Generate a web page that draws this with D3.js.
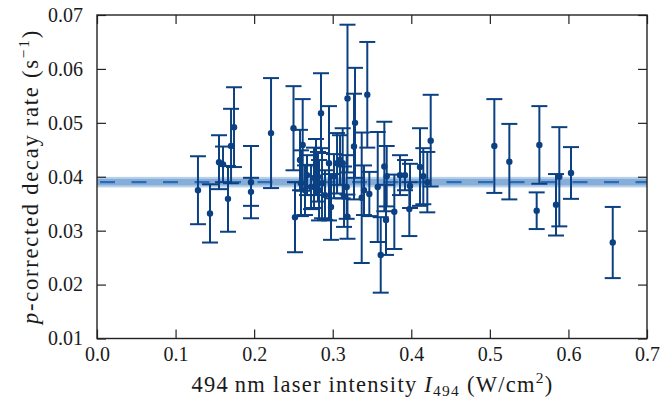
<!DOCTYPE html>
<html><head><meta charset="utf-8">
<script src="https://cdn.jsdelivr.net/npm/d3@7"></script>
<style>body{margin:0;background:#fff}svg{display:block}</style>
</head><body><svg id="c" width="661" height="410"></svg>
<script>
const intensity = [0.1285,0.1438,0.1553,0.1604,0.1667,0.1706,0.1744,0.196,0.196,0.2215,0.2501,0.252,
0.2584,0.2596,0.2618,0.2647,0.2673,0.2724,0.2762,0.2787,0.2813,0.2826,0.2851,0.2864,0.2902,0.2953,0.2978,
0.3016,0.3055,0.3093,0.3127,0.3144,0.3178,0.3188,0.3188,0.3284,0.3271,0.3369,0.3398,0.3440,0.3466,0.3573,
0.3611,0.3657,0.3687,0.3678,0.3784,0.3856,0.3920,0.3975,0.3984,0.4111,0.4153,0.4204,0.4247,
0.5057,0.5248,0.5596,0.5630,0.5842,0.5884,0.6033,0.6564];
const decayRate = [0.0375,0.0332,0.0427,0.0423,0.0359,0.0457,0.0492,0.0390,0.0372,0.0481,0.0490,0.0325,
0.0431,0.0388,0.0459,0.0375,0.0403,0.0381,0.0398,0.0418,0.0400,0.0375,0.0518,0.0388,0.0366,0.0425,0.0344,
0.0401,0.0425,0.0431,0.0425,0.0363,0.0381,0.0545,0.0326,0.0500,0.0456,0.0361,0.0375,0.0552,0.0368,0.0381,
0.0255,0.0419,0.0401,0.0320,0.0335,0.0403,0.0403,0.0340,0.0383,0.0418,0.0401,0.0390,0.0467,
0.0457,0.0428,0.0337,0.0459,0.0348,0.0400,0.0407,0.0278];
const decayErr = [0.0063,0.0054,0.0050,0.0033,0.0061,0.0069,0.0074,0.0067,0.0026,0.0102,0.0078,0.0065,
0.0056,0.0061,0.0085,0.0046,0.0037,0.0041,0.0056,0.0052,0.0046,0.0056,0.0074,0.0065,0.0046,0.0106,0.0061,
0.0041,0.0056,0.0046,0.0065,0.0056,0.0059,0.0137,0.0041,0.0102,0.0098,0.0121,0.0046,0.0098,0.0041,0.0102,
0.0070,0.0083,0.0056,0.0065,0.0069,0.0037,0.0028,0.0050,0.0041,0.0072,0.0052,0.0056,0.0085,
0.0087,0.0070,0.0034,0.0072,0.0057,0.0092,0.0048,0.0066];
const fitValue = 0.0390, fitInner = 0.0006, fitOuter = 0.00098;
const xTicks = [0.0,0.1,0.2,0.3,0.4,0.5,0.6,0.7];
const yTicks = [0.01,0.02,0.03,0.04,0.05,0.06,0.07];

const FONT = "'Liberation Serif', 'Times New Roman', Tinos, Times, 'DejaVu Serif', serif";
const svg = d3.select("#c");
const L=97,R=647,T=15,B=338.5;
const x = d3.scaleLinear().domain([0,0.7]).range([L,R]);
const y = d3.scaleLinear().domain([0.01,0.07]).range([B,T]);
const data = intensity.map((v,i)=>({x:v,y:decayRate[i],e:decayErr[i]}));
const dark="#0b4182";

// fit band
svg.append("rect").attr("x",L).attr("width",R-L).attr("y",y(fitValue+fitOuter)).attr("height",y(fitValue-fitOuter)-y(fitValue+fitOuter)).attr("fill","#b9d0ea");
svg.append("rect").attr("x",L).attr("width",R-L).attr("y",y(fitValue+fitInner)).attr("height",y(fitValue-fitInner)-y(fitValue+fitInner)).attr("fill","#86acd8");
svg.append("line").attr("x1",L+3).attr("x2",R).attr("y1",y(fitValue)).attr("y2",y(fitValue)).attr("stroke","#2a6db6").attr("stroke-width",2.2).attr("stroke-dasharray","15,16.5");

// error bars
const g = svg.append("g");
const eb = g.selectAll("g.eb").data(data).join("g");
eb.append("line").attr("x1",d=>x(d.x)).attr("x2",d=>x(d.x)).attr("y1",d=>y(d.y+d.e)).attr("y2",d=>y(d.y-d.e)).attr("stroke",dark).attr("stroke-width",2);
eb.append("line").attr("x1",d=>x(d.x)-8).attr("x2",d=>x(d.x)+8).attr("y1",d=>y(d.y+d.e)).attr("y2",d=>y(d.y+d.e)).attr("stroke",dark).attr("stroke-width",2);
eb.append("line").attr("x1",d=>x(d.x)-8).attr("x2",d=>x(d.x)+8).attr("y1",d=>y(d.y-d.e)).attr("y2",d=>y(d.y-d.e)).attr("stroke",dark).attr("stroke-width",2);
g.selectAll("circle").data(data).join("circle").attr("cx",d=>x(d.x)).attr("cy",d=>y(d.y)).attr("r",3.2).attr("fill",dark);

// axes
const tl=9, ax="#222";
const axB=d3.axisBottom(x).tickValues(xTicks).tickFormat(d3.format(".1f")).tickSizeInner(-tl).tickSizeOuter(0).tickPadding(8);
const axT=d3.axisTop(x).tickValues(xTicks).tickFormat("").tickSizeInner(-tl).tickSizeOuter(0);
const axLft=d3.axisLeft(y).tickValues(yTicks).tickFormat(d3.format(".2f")).tickSizeInner(-tl).tickSizeOuter(0).tickPadding(14);
const axRt=d3.axisRight(y).tickValues(yTicks).tickFormat("").tickSizeInner(-tl).tickSizeOuter(0);
[[axB,`translate(0,${B})`],[axT,`translate(0,${T})`],[axLft,`translate(${L},0)`],[axRt,`translate(${R},0)`]].forEach(([a,t])=>{
  const gg=svg.append("g").attr("transform",t).call(a).attr("font-family",FONT).attr("font-size",20);
  gg.select(".domain").remove();
  gg.selectAll("line").attr("stroke",ax).attr("stroke-width",1.2);
  gg.selectAll("text").attr("fill","#1a1a1a");
});
svg.append("rect").attr("x",L).attr("y",T).attr("width",R-L).attr("height",B-T).attr("fill","none").attr("stroke",ax).attr("stroke-width",1.4);

function fitWidth(t, target){
  const n = t.text().length;
  const w = t.node().getComputedTextLength();
  t.attr("letter-spacing", ((target - w) / n).toFixed(2));
}

// x label
const LS=22.5, SS=15.5;
const xl = svg.append("text").attr("x",372.5).attr("y",392).attr("text-anchor","middle").attr("font-size",LS).attr("font-family",FONT).attr("fill","#1a1a1a");
xl.append("tspan").text("494\u2009nm laser intensity ");
xl.append("tspan").attr("font-style","italic").text("I");
xl.append("tspan").attr("font-size",SS).attr("dy",4).text("494");
xl.append("tspan").attr("dy",-4).text(" (W/cm");
xl.append("tspan").attr("font-size",SS).attr("dy",-9).text("2");
xl.append("tspan").attr("dy",9).text(")");
fitWidth(xl, 362);

// y label
const yl = svg.append("text").attr("transform",`translate(38,176.5) rotate(-90)`).attr("text-anchor","middle").attr("font-size",LS).attr("font-family",FONT).attr("fill","#1a1a1a");
yl.append("tspan").attr("font-style","italic").text("p");
yl.append("tspan").text("-corrected decay rate (s");
yl.append("tspan").attr("font-size",SS).attr("dy",-9).text("\u22121");
yl.append("tspan").attr("dy",9).text(")");
fitWidth(yl, 295);
</script></body></html>
